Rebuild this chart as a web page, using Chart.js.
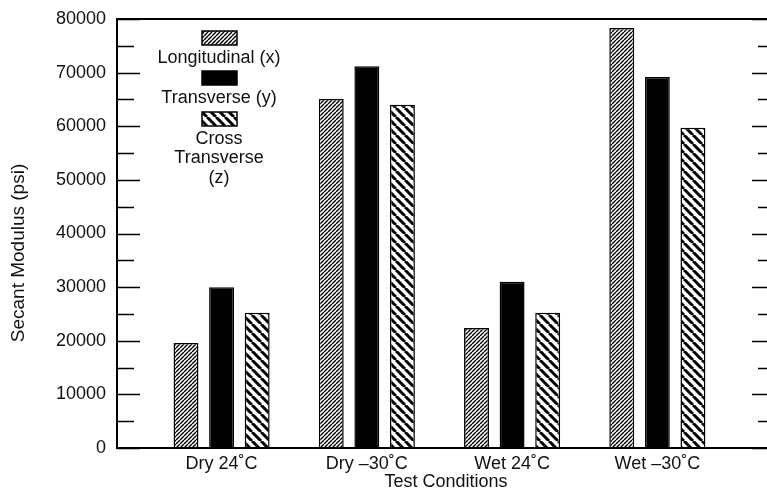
<!DOCTYPE html>
<html>
<head>
<meta charset="utf-8">
<script src="https://cdn.jsdelivr.net/npm/chart.js@4"></script>
<style>
  html, body { margin: 0; padding: 0; background: #fff; overflow: hidden; }
  #wrap { position: relative; width: 780px; height: 495px; }
</style>
</head>
<body>
<div id="wrap"><canvas id="chart"></canvas></div>
<script>
const categories = ['Dry 24˚C', 'Dry –30˚C', 'Wet 24˚C', 'Wet –30˚C'];
const seriesNames = ['Longitudinal (x)', 'Transverse (y)', 'Cross Transverse (z)'];
const longitudinal = [19600, 65100, 22400, 78300];
const transverse = [30000, 71200, 31000, 69200];
const crossTransverse = [25200, 64000, 25200, 59700];
const yMin = 0, yMax = 80000, yStep = 10000;
const yTitle = 'Secant Modulus (psi)';

const FONT = 'Liberation Sans, Arial, sans-serif';
const INK = '#111';
const FS = 18;

function hatch(period, width, dir) {
    const c = document.createElement('canvas');
    c.width = c.height = period;
    const g = c.getContext('2d');
    g.fillStyle = '#fff';
    g.fillRect(0, 0, period, period);
    g.strokeStyle = '#000';
    g.lineWidth = width;
    g.beginPath();
    for (let k = -1; k <= 1; k++) {
        if (dir > 0) { g.moveTo(k * period, period); g.lineTo(k * period + period, 0); }
        else { g.moveTo(k * period, 0); g.lineTo(k * period + period, period); }
    }
    g.stroke();
    return g.createPattern(c, 'repeat');
}

const fills = [hatch(4, 1.4, 1), '#000', hatch(9, 3, -1)];
const series = [longitudinal, transverse, crossTransverse];

// inward ticks + frame + rotated y title
const frame = {
    id: 'frame',
    afterDatasetsDraw(chart) {
        const { ctx, chartArea: a, scales: { y } } = chart;
        ctx.save();
        ctx.strokeStyle = '#000';
        ctx.lineWidth = 2;
        ctx.strokeRect(a.left, a.top, a.right - a.left, a.bottom - a.top);
        ctx.lineWidth = 1.6;
        ctx.beginPath();
        for (let v = yMin; v <= yMax; v += yStep / 2) {
            const py = Math.round(y.getPixelForValue(v)) + 0.5;
            const len = (v % yStep === 0) ? 23 : 17;
            ctx.moveTo(a.left, py); ctx.lineTo(a.left + len, py);
            ctx.moveTo(a.right, py); ctx.lineTo(a.right - len, py);
        }
        ctx.stroke();

        // axis title sits a bit below the axis middle in the original
        ctx.translate(19, 253);
        ctx.rotate(-Math.PI / 2);
        ctx.font = '19px ' + FONT;
        ctx.fillStyle = INK;
        ctx.textAlign = 'center';
        ctx.textBaseline = 'middle';
        ctx.fillText(yTitle, 0, 0);
        ctx.restore();
    }
};

// legend: swatch above label, stacked
const stackLegend = {
    id: 'stackLegend',
    afterDraw(chart) {
        const { ctx } = chart;
        const cx = 219;
        const items = [
            { box: 31, lines: ['Longitudinal (x)'] },
            { box: 71, lines: ['Transverse (y)'] },
            { box: 112, lines: ['Cross', 'Transverse', '(z)'] }
        ];
        ctx.save();
        ctx.font = FS + 'px ' + FONT;
        ctx.textAlign = 'center';
        ctx.textBaseline = 'middle';
        items.forEach((it, i) => {
            ctx.fillStyle = fills[i];
            ctx.fillRect(cx - 17, it.box, 35, 14);
            ctx.strokeStyle = '#000';
            ctx.lineWidth = 1.5;
            ctx.strokeRect(cx - 17, it.box, 35, 14);
            ctx.fillStyle = INK;
            it.lines.forEach((t, j) => ctx.fillText(t, cx, it.box + 27 + j * 19.5));
        });
        ctx.restore();
    }
};

new Chart(document.getElementById('chart'), {
    type: 'bar',
    data: {
        datasets: series.map((vals, i) => ({
            label: seriesNames[i],
            data: vals.map((v, k) => ({ x: k + 1, y: v })),
            backgroundColor: fills[i],
            borderColor: '#000',
            borderWidth: 1.5,
            categoryPercentage: 0.735,
            barPercentage: 0.7
        }))
    },
    options: {
        responsive: true,
        maintainAspectRatio: false,
        animation: false,
        layout: { padding: { left: 0, right: 5, top: 19, bottom: 0 } },
        plugins: { legend: { display: false }, tooltip: { enabled: false } },
        scales: {
            x: {
                type: 'linear',
                offset: false,
                min: 0.28,
                max: 4.81,
                afterBuildTicks: s => { s.ticks = categories.map((_, i) => ({ value: i + 1 })); },
                afterFit: s => { s.height = 47; s.paddingLeft = 0; s.paddingRight = 0; },
                grid: { display: false, drawTicks: false, offset: false },
                border: { display: false },
                ticks: {
                    padding: 5,
                    color: INK,
                    font: { family: FONT, size: FS },
                    callback: v => categories[v - 1] ?? ''
                },
                title: {
                    display: true,
                    text: 'Test Conditions',
                    color: INK,
                    font: { family: FONT, size: FS },
                    padding: { top: 0, bottom: 2 }
                }
            },
            y: {
                min: yMin,
                max: yMax,
                afterFit: s => { s.width = 117; s.paddingTop = 0; s.paddingBottom = 0; },
                grid: { display: false, drawTicks: false },
                border: { display: false },
                ticks: {
                    stepSize: yStep,
                    padding: 11,
                    color: INK,
                    font: { family: FONT, size: FS },
                    callback: v => String(v)
                }
            }
        }
    },
    plugins: [frame, stackLegend]
});
</script>
</body>
</html>
